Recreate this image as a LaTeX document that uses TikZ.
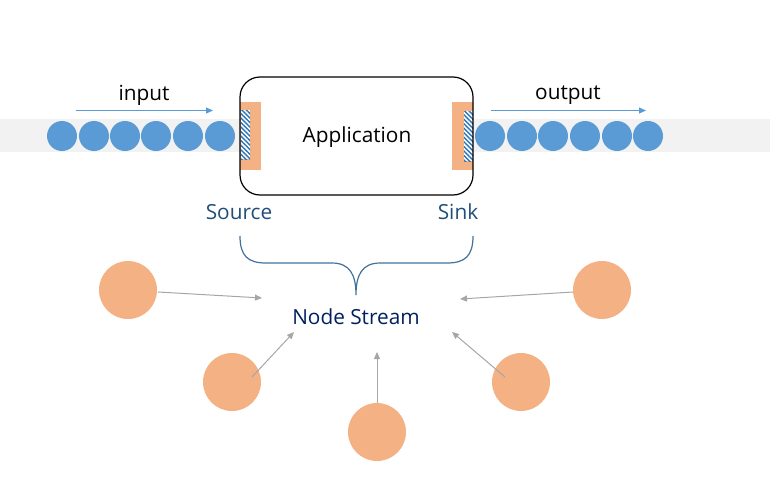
\documentclass[tikz,border=0pt]{standalone}
\usepackage{fontspec}
\setmainfont{Open Sans}
\usetikzlibrary{arrows.meta,patterns.meta}
\definecolor{bandgray}{HTML}{F2F2F2}
\definecolor{ballblue}{HTML}{5B9BD5}
\definecolor{peach}{HTML}{F4B183}
\definecolor{labblue}{HTML}{1F4E79}
\definecolor{navy}{HTML}{002060}
\definecolor{bracecol}{HTML}{41719C}
\definecolor{arrgray}{HTML}{A6A6A6}
\definecolor{hatchblue}{HTML}{2E75B6}
\tikzset{
  ball/.style={circle,fill=ballblue,minimum size=30pt,inner sep=0pt},
  pnode/.style={circle,fill=peach,minimum size=58pt,inner sep=0pt},
  txt/.style={font=\fontsize{20.8}{24}\selectfont,inner sep=0pt},
  flow/.style={draw=ballblue,line width=1pt,-{Triangle[length=7pt,width=6pt]}},
  feed/.style={draw=arrgray,line width=1pt,-{Triangle[length=7pt,width=6pt]}},
  hatch/.style={pattern={Lines[angle=-45,distance=3.2pt,line width=1.4pt]},pattern color=hatchblue}
}
\begin{document}
\begin{tikzpicture}[x=1pt,y=-1pt]
\useasboundingbox (0,0) rectangle (770,479);
% band
\fill[bandgray] (0,119) rectangle (770,152);
% input balls
\foreach \i/\x in {1/62,2/94,3/125,4/156,5/188,6/220}{
  \node[ball] (in\i) at (\x,136) {};
}
\foreach \i/\x in {1/490,2/522,3/553,4/585,5/617,6/648}{
  \node[ball] (out\i) at (\x,136) {};
}
% application box
\node[draw=none,fill=white,rounded corners=20pt,minimum width=233pt,minimum height=118pt,inner sep=0pt] (app) at (356.5,136) {};
% source / sink
\fill[peach] (240,102) rectangle (261,170);
\fill[white] (241,110) rectangle (250,159);
\fill[hatch] (241,110) rectangle (250,159);
\fill[peach] (452,102) rectangle (473,170);
\fill[white] (464,111) rectangle (473,161);
\fill[hatch] (464,111) rectangle (473,161);
\node[draw=black,line width=1.2pt,rounded corners=20pt,minimum width=233pt,minimum height=118pt,inner sep=0pt] (appb) at (356.5,136) {};
\node[txt] (apptxt) at (357,137.5) {Application};
% arrows above
\coordinate (ia) at (76,110.5);
\coordinate (ib) at (213,110.5);
\coordinate (oa) at (491,110.5);
\coordinate (ob) at (646,110.5);
\draw[flow] (ia) -- (ib);
\draw[flow] (oa) -- (ob);
\node[txt] (inlab) at (144,95) {input};
\node[txt] (outlab) at (568,95) {output};
\node[txt,text=labblue] (src) at (239,212) {Source};
\node[txt,text=labblue] (snk) at (458,212) {Sink};
% brace
\draw[bracecol,line width=1.2pt] (240,236) .. controls (240,256) and (248,263) .. (266,263) -- (332,263) .. controls (350,263) and (356,275) .. (356,295) .. controls (356,275) and (362,263) .. (380,263) -- (447,263) .. controls (465,263) and (473,256) .. (473,236);
\node[txt,text=navy] (ns) at (356,316.5) {Node Stream};
% peach nodes
\node[pnode] (p1) at (128,290) {};
\node[pnode] (p2) at (232,382) {};
\node[pnode] (p3) at (377,432) {};
\node[pnode] (p4) at (602,290) {};
\node[pnode] (p5) at (521,382) {};
\coordinate (a1s) at (158,292);
\coordinate (a1e) at (262,298);
\coordinate (a2s) at (252,377);
\coordinate (a2e) at (294,332);
\coordinate (a3s) at (377,403);
\coordinate (a3e) at (377,352);
\coordinate (a4s) at (573,292);
\coordinate (a4e) at (460,299);
\coordinate (a5s) at (505,377);
\coordinate (a5e) at (452,332);
\draw[feed] (a1s) -- (a1e);
\draw[feed] (a2s) -- (a2e);
\draw[feed] (a3s) -- (a3e);
\draw[feed] (a4s) -- (a4e);
\draw[feed] (a5s) -- (a5e);
\end{tikzpicture}
\end{document}
